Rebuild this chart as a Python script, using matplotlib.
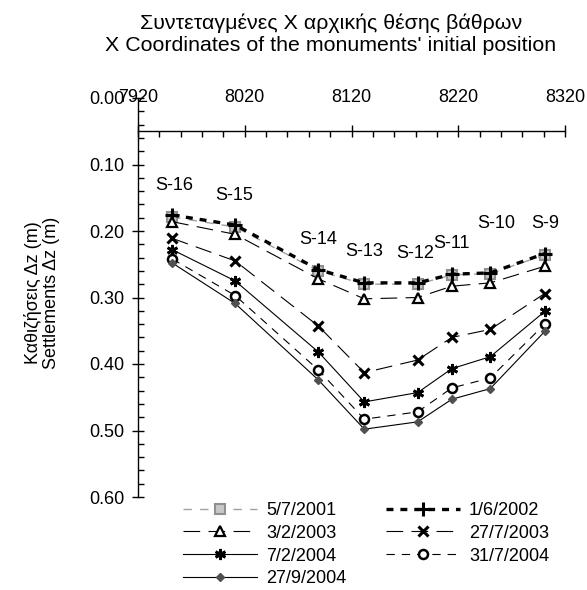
import matplotlib
matplotlib.use("Agg")
import matplotlib.pyplot as plt
from matplotlib.ticker import MultipleLocator, FormatStrFormatter

plt.rcParams["font.family"] = ["Liberation Sans", "DejaVu Sans"]
plt.rcParams["lines.scale_dashes"] = False

# ── Data ─────────────────────────────────────────────────────────────────────
stations = ["S-16", "S-15", "S-14", "S-13", "S-12", "S-11", "S-10", "S-9"]
x_coord = [7952, 8011, 8089, 8132, 8182, 8214, 8250, 8301]

dz_2001_07_05 = [0.179, 0.194, 0.260, 0.280, 0.280, 0.266, 0.264, 0.236]
dz_2002_06_01 = [0.176, 0.191, 0.258, 0.278, 0.278, 0.265, 0.263, 0.234]
dz_2003_02_03 = [0.186, 0.205, 0.272, 0.302, 0.300, 0.283, 0.278, 0.253]
dz_2003_07_27 = [0.211, 0.245, 0.343, 0.413, 0.394, 0.360, 0.348, 0.294]
dz_2004_02_07 = [0.228, 0.275, 0.382, 0.457, 0.443, 0.407, 0.389, 0.321]
dz_2004_07_31 = [0.242, 0.297, 0.409, 0.483, 0.472, 0.436, 0.421, 0.340]
dz_2004_09_27 = [0.248, 0.309, 0.424, 0.498, 0.487, 0.453, 0.437, 0.351]

# station label offsets above the upper curve (pixels)
label_dx = [2, -1, 0, 0, -3, 0, 6, 0]
label_dy = [30, 30, 30, 31, 29, 31, 49, 30]

# ── Styles per survey ────────────────────────────────────────────────────────
series = [
    ("5/7/2001", dz_2001_07_05, dict(color="#a0a0a0", lw=1.0, dashes=(6, 6),
                                     marker="s", ms=7, mfc="#c8c8c8", mec="#909090", mew=1.5)),
    ("1/6/2002", dz_2002_06_01, dict(color="black", lw=2.4, dashes=(5, 5),
                                     marker="+", ms=10, mew=2.2)),
    ("3/2/2003", dz_2003_02_03, dict(color="black", lw=0.8, dashes=(12, 6),
                                     marker="^", ms=6.5, mfc="white", mec="black", mew=1.6)),
    ("27/7/2003", dz_2003_07_27, dict(color="black", lw=0.8, dashes=(12, 6),
                                      marker="x", ms=7.5, mew=2.2)),
    ("7/2/2004", dz_2004_02_07, dict(color="black", lw=0.8, linestyle="-",
                                     marker=(6, 2, 0), ms=8, mew=2.0)),
    ("31/7/2004", dz_2004_07_31, dict(color="black", lw=0.8, dashes=(6, 5),
                                      marker="o", ms=6.5, mfc="white", mec="black", mew=1.8)),
    ("27/9/2004", dz_2004_09_27, dict(color="black", lw=0.8, linestyle="-",
                                      marker="D", ms=4, mfc="#505050", mec="#505050")),
]

fig = plt.figure(figsize=(5.87, 5.90), dpi=100)
ax = fig.add_axes([138 / 587, 1 - 497 / 590, 427 / 587, 399 / 590])

handles = {}
for label, values, style in series:
    (ln,) = ax.plot(x_coord, values, label=label, **style)
    handles[label] = ln

for name, x, y, dx, dy in zip(stations, x_coord, dz_2002_06_01, label_dx, label_dy):
    ax.annotate(name, (x, y), xytext=(dx, dy), textcoords="offset pixels",
                ha="center", va="center", fontsize=13)

# ── Axes: x axis drawn on top, crossing the depth axis at 0.05 m ────────────
ax.set_xlim(7920, 8320)
ax.set_ylim(0.60, 0.00)
ax.spines["right"].set_visible(False)
ax.spines["bottom"].set_visible(False)
ax.spines["top"].set_position(("data", 0.05))
ax.xaxis.set_ticks_position("top")
ax.xaxis.set_label_position("top")

ax.xaxis.set_major_locator(MultipleLocator(100, offset=20))
ax.xaxis.set_minor_locator(MultipleLocator(20))
ax.yaxis.set_major_locator(MultipleLocator(0.1))
ax.yaxis.set_minor_locator(MultipleLocator(0.02))
ax.yaxis.set_major_formatter(FormatStrFormatter("%.2f"))

ax.tick_params(axis="x", which="major", direction="inout", length=8, width=1,
               pad=14, labelsize=13)
ax.tick_params(axis="x", which="minor", direction="in", length=4, width=1)
ax.tick_params(axis="y", which="major", direction="inout", length=9, width=1,
               pad=5, labelsize=13)
ax.tick_params(axis="y", which="minor", direction="in", length=4, width=1)
for sp in ("top", "left"):
    ax.spines[sp].set_linewidth(1)

fig.text(331 / 587, 1 - 34 / 590,
         "Συντεταγμένες Χ αρχικής θέσης βάθρων\nX Coordinates of the monuments' initial position",
         ha="center", va="center", fontsize=15.4, linespacing=1.2)
fig.text(42 / 587, 297 / 590, "Καθιζήσεις Δz (m)\nSettlements Δz (m)",
         rotation=90, ha="center", va="center", fontsize=13, linespacing=1.05)

order = ["5/7/2001", "3/2/2003", "7/2/2004", "27/9/2004",
         "1/6/2002", "27/7/2003", "31/7/2004"]
fig.legend([handles[k] for k in order], order, ncol=2, frameon=False,
           loc="upper left", bbox_to_anchor=(183 / 587, 1 - 502 / 590),
           fontsize=13, handlelength=4.1, handletextpad=0.5, columnspacing=2.2,
           labelspacing=0.32, borderpad=0, borderaxespad=0)

fig.savefig("out.png", dpi=100)
